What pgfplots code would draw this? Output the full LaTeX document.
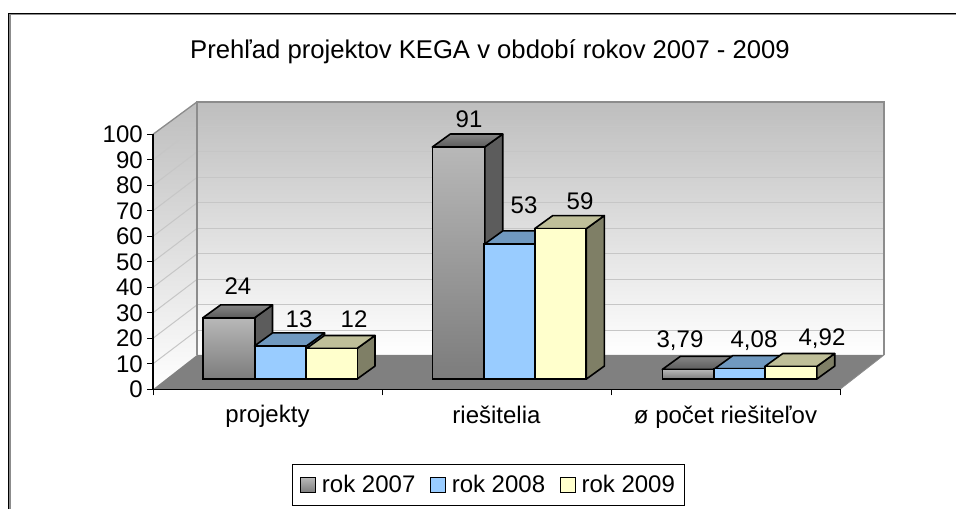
\documentclass[border=0pt]{standalone}
\usepackage{fontspec}
\setmainfont{Liberation Sans}
\usepackage{pgfplots}
\usepackage{pgfplotstable}
\pgfplotsset{compat=1.18}
\definecolor{gfront1}{HTML}{B8B8B8}\definecolor{gfront2}{HTML}{7C7C7C}
\definecolor{gtop1}{HTML}{858585}\definecolor{gtop2}{HTML}{5C5C5C}
\definecolor{gside}{HTML}{5C5C5C}
\definecolor{bfront}{HTML}{99CCFF}\definecolor{btop}{HTML}{7099C0}\definecolor{bside}{HTML}{5E7F9F}
\definecolor{yfront}{HTML}{FFFFCC}\definecolor{ytop}{HTML}{BFBF99}\definecolor{yside}{HTML}{7F7F66}
\definecolor{wall}{HTML}{BEBEBE}\definecolor{floorc}{HTML}{808080}\definecolor{edgec}{HTML}{8C8C8C}
\definecolor{gridc}{HTML}{C6C6C6}
\pgfplotstableread{
x v
127.5 13
356.7 53
586.7 4.08
}\tB
\pgfplotstableread{
x v
179 12
407.5 59
637.7 4.92
}\tC
% x0, x1, value, style top, style side
\newcommand\barfaces[5]{%
  \pgfmathsetmacro\xp{#1+18}\pgfmathsetmacro\xq{#2+18}\pgfmathsetmacro\vq{#3+5.1}%
  \edef\next{\noexpand\addplot[forget plot,yshift=7.65pt,draw=black,line width=1.2pt,line join=round,#5] coordinates {(#2,0)(\xq,5.1)(\xq,\vq)(#2,#3)} --cycle;
  \noexpand\addplot[forget plot,yshift=7.65pt,draw=black,line width=1.2pt,line join=round,#4] coordinates {(#1,#3)(#2,#3)(\xq,\vq)(\xp,\vq)} --cycle;}\next}
\newcommand\lab[3]{\node[font=\fontsize{18}{20}\selectfont,anchor=base,inner sep=0pt] at ({#1*0.75pt},{(509-#2)*0.75pt}) {#3};}
\pgfplotsset{
 topA/.style={top color=gtop1,bottom color=gtop2},
 sideA/.style={fill=gside},
 topB/.style={fill=btop},sideB/.style={fill=bside},
 topC/.style={fill=ytop},sideC/.style={fill=yside},
 greybar/.style={forget plot,ybar,bar width=38.9pt,bar shift=0pt,yshift=7.65pt,draw=black,line width=1.2pt,top color=gfront1,bottom color=gfront2},
}
\begin{document}
\begin{tikzpicture}
\useasboundingbox (0,0) rectangle (717pt,381.75pt);
\begin{axis}[
 at={(114.75pt,89.775pt)},anchor=south west,
 scale only axis,width=515.25pt,height=191.25pt,
 xmin=0,xmax=687,ymin=0,ymax=100,clip=false,axis on top,
 axis x line*=bottom,axis y line*=left,
 axis line style={black,line width=0.9pt},
 every tick/.style={black,line width=0.75pt},
 ytick={0,10,...,100},
 xtick={114.5,343.5,572.5},
 xticklabels={projekty,riešitelia,ø počet riešiteľov},
 minor xtick={0,229,458,687},
 major x tick style={draw=none},
 tick align=outside,
 major tick length=4.5pt,minor tick length=4.5pt,
 x tick label style={yshift=-4.2pt},
 /pgf/number format/assume math mode=true,
 tick label style={font=\fontsize{18}{20}\selectfont},
 y tick label style={xshift=-2pt,inner sep=1pt},
 title={Prehľad projektov KEGA v období rokov 2007 - 2009},
 every axis title shift=0pt,
 title style={at={(0.4905,1.3228)},anchor=center,font=\fontsize{19.25}{22}\selectfont,inner sep=0pt},
 legend columns=3,
 legend style={at={(0.489,-0.376)},anchor=center,draw=black,line width=0.75pt,
   font=\fontsize{18}{20}\selectfont,inner xsep=5.5pt,inner ysep=6pt,
   /tikz/every even column/.append style={column sep=9pt},
   /tikz/every odd column/.append style={column sep=0pt}},
 legend cell align=left,
]
% legend
\addlegendimage{legend image code/.code={\draw[black,line width=.8pt,top color=gfront1,bottom color=gfront2] (0pt,-5.6pt) rectangle (11.25pt,5.6pt);\path (13.5pt,0);}}
\addlegendentry{rok 2007}
\addlegendimage{legend image code/.code={\draw[black,line width=.8pt,fill=bfront] (0pt,-5.6pt) rectangle (11.25pt,5.6pt);\path (13.5pt,0);}}
\addlegendentry{rok 2008}
\addlegendimage{legend image code/.code={\draw[black,line width=.8pt,fill=yfront] (0pt,-5.6pt) rectangle (11.25pt,5.6pt);\path (13.5pt,0);}}
\addlegendentry{rok 2009}
% walls and floor
\addplot[forget plot,draw=none,top color=wall,bottom color=white] coordinates {(0,0)(44,13.45)(44,112.7)(0,100)} --cycle;
\addplot[forget plot,draw=none,top color=wall,bottom color=white] coordinates {(44,13.45)(731,13.45)(731,112.7)(44,112.7)} --cycle;
\addplot[forget plot,draw=none,fill=floorc] coordinates {(0,0)(687,0)(731,13.45)(44,13.45)} --cycle;
\pgfplotsinvokeforeach{10,20,...,90}{
 \addplot[forget plot,gridc,line width=.75pt,xshift=33pt,yshift=25.1pt] coordinates {(0,#1)(687,#1)};
 \addplot[forget plot,gridc,line width=.75pt] coordinates {(0,#1)(44,#1+13.1)};
}
\addplot[forget plot,edgec,line width=1.5pt] coordinates {(44,13.45)(44,112.7)(731,112.7)(731,13.45)};
\addplot[forget plot,edgec,line width=1pt] coordinates {(0,100)(44,112.7)};
\addplot[forget plot,edgec,line width=.6pt] coordinates {(687,0)(731,13.45)};
% series 2007: one plot per bar, so that each bar has its own gradient
\barfaces{49.7}{101.5}{24}{topA}{sideA}
\barfaces{279.3}{331.7}{91}{topA}{sideA}
\barfaces{509.3}{561.7}{3.79}{topA}{sideA}
\addplot[greybar] coordinates {(76,24)};
\addplot[greybar] coordinates {(305.5,91)};
\addplot[greybar] coordinates {(535.5,3.79)};
% series 2008
\barfaces{101.5}{153.5}{13}{topB}{sideB}
\barfaces{331.7}{381.7}{53}{topB}{sideB}
\barfaces{561.7}{611.7}{4.08}{topB}{sideB}
\addplot[forget plot,ybar,bar width=38.2pt,bar shift=0pt,yshift=7.65pt,draw=black,line width=1.2pt,fill=bfront] table[x=x,y=v] {\tB};
% series 2009
\barfaces{153.5}{204}{12}{topC}{sideC}
\barfaces{381.7}{433.3}{59}{topC}{sideC}
\barfaces{611.7}{663.7}{4.92}{topC}{sideC}
\addplot[forget plot,ybar,bar width=38.4pt,bar shift=0pt,yshift=7.65pt,draw=black,line width=1.2pt,fill=yfront] table[x=x,y=v] {\tC};
\end{axis}
\draw[edgec,line width=1pt] (7.6pt,0) -- (7.6pt,370.7pt) -- (717pt,370.7pt);
\draw[black,line width=1pt] (6.6pt,0) -- (6.6pt,371.5pt) -- (717pt,371.5pt);
\lab{238}{295}{24}
\lab{299}{327.5}{13}
\lab{354}{327.5}{12}
\lab{469}{127.5}{91}
\lab{524}{213.5}{53}
\lab{580}{209.5}{59}
\lab{680}{347.5}{3,79}
\lab{754}{347.5}{4,08}
\lab{822}{345.5}{4,92}
\end{tikzpicture}
\end{document}
